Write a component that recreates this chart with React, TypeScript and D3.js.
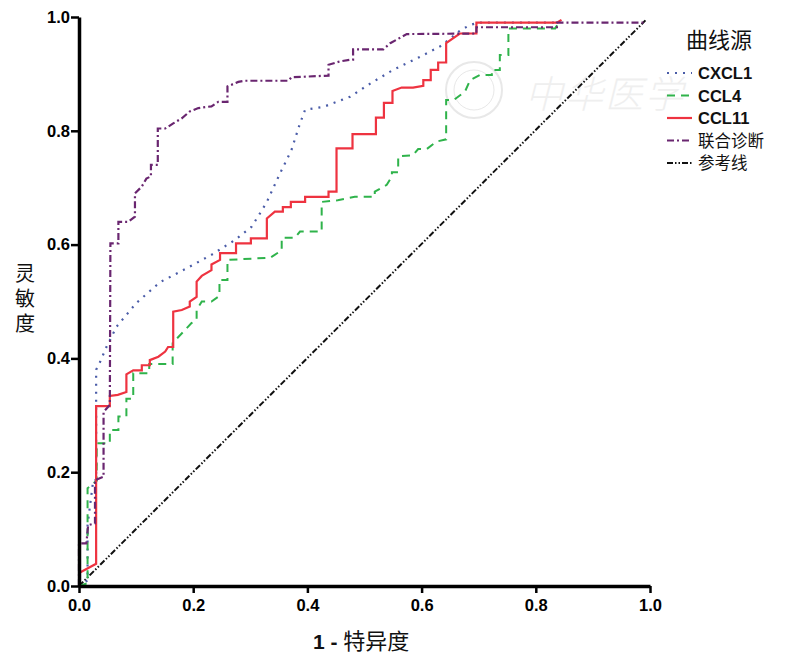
import React, { useRef, useEffect } from "react";
import * as d3 from "d3";

type Pt = [number, number];

// ROC points: [1 - specificity, sensitivity]
const cxcl1: Pt[] = [
  [0, 0], [0.015, 0.01], [0.015, 0.107], [0.025, 0.186], [0.03, 0.186], [0.03, 0.38],
  [0.037, 0.394], [0.048, 0.42], [0.066, 0.456], [0.1, 0.497], [0.142, 0.534],
  [0.186, 0.557], [0.232, 0.582], [0.273, 0.608], [0.302, 0.631], [0.317, 0.655],
  [0.329, 0.675], [0.352, 0.725], [0.372, 0.766], [0.387, 0.813], [0.396, 0.837],
  [0.428, 0.842], [0.475, 0.86], [0.51, 0.883], [0.55, 0.907], [0.597, 0.93],
  [0.632, 0.948], [0.65, 0.962], [0.667, 0.976], [0.685, 0.986], [0.7, 0.99], [0.84, 0.99],
];

const ccl4: Pt[] = [
  [0, 0], [0.015, 0.005], [0.015, 0.172], [0.031, 0.185], [0.031, 0.251], [0.054, 0.251],
  [0.054, 0.274], [0.069, 0.274], [0.069, 0.298], [0.083, 0.298], [0.083, 0.329],
  [0.095, 0.329], [0.095, 0.374], [0.123, 0.374], [0.123, 0.39], [0.164, 0.39],
  [0.164, 0.427], [0.197, 0.462], [0.206, 0.468], [0.206, 0.485], [0.215, 0.5],
  [0.232, 0.5], [0.246, 0.51], [0.246, 0.538], [0.26, 0.538], [0.26, 0.573],
  [0.335, 0.577], [0.355, 0.59], [0.355, 0.612], [0.378, 0.612], [0.387, 0.623],
  [0.425, 0.623], [0.425, 0.675], [0.453, 0.678], [0.483, 0.684], [0.518, 0.684],
  [0.518, 0.693], [0.539, 0.705], [0.548, 0.72], [0.548, 0.727], [0.559, 0.727],
  [0.559, 0.755], [0.585, 0.757], [0.594, 0.768], [0.609, 0.768], [0.626, 0.781],
  [0.643, 0.785], [0.643, 0.854], [0.656, 0.854], [0.676, 0.869], [0.685, 0.889],
  [0.702, 0.898], [0.723, 0.898], [0.723, 0.907], [0.737, 0.907], [0.737, 0.933],
  [0.752, 0.933], [0.752, 0.98], [0.834, 0.98], [0.84, 0.99],
];

const ccl11: Pt[] = [
  [0, 0.023], [0.03, 0.039], [0.03, 0.316], [0.054, 0.316], [0.054, 0.334], [0.068, 0.336],
  [0.083, 0.341], [0.083, 0.372], [0.095, 0.379], [0.11, 0.379], [0.11, 0.388],
  [0.124, 0.388], [0.124, 0.397], [0.139, 0.403], [0.151, 0.412], [0.156, 0.42],
  [0.165, 0.42], [0.165, 0.482], [0.18, 0.485], [0.194, 0.491], [0.194, 0.5],
  [0.206, 0.508], [0.206, 0.535], [0.215, 0.545], [0.232, 0.555], [0.232, 0.565],
  [0.247, 0.573], [0.247, 0.585], [0.275, 0.585], [0.275, 0.602], [0.301, 0.602],
  [0.301, 0.611], [0.329, 0.611], [0.329, 0.646], [0.343, 0.658], [0.357, 0.658],
  [0.357, 0.666], [0.371, 0.666], [0.371, 0.675], [0.396, 0.675], [0.396, 0.684],
  [0.437, 0.684], [0.437, 0.693], [0.451, 0.693], [0.451, 0.769], [0.479, 0.769],
  [0.479, 0.794], [0.52, 0.794], [0.52, 0.823], [0.534, 0.823], [0.534, 0.849],
  [0.549, 0.849], [0.549, 0.87], [0.565, 0.876], [0.585, 0.876], [0.603, 0.879],
  [0.603, 0.889], [0.616, 0.889], [0.616, 0.907], [0.629, 0.907], [0.629, 0.92],
  [0.643, 0.92], [0.643, 0.954], [0.667, 0.971], [0.696, 0.971], [0.696, 0.99],
  [0.837, 0.99], [0.845, 0.995],
];

const combined: Pt[] = [
  [0, 0], [0, 0.075], [0.013, 0.075], [0.016, 0.107], [0.028, 0.11], [0.028, 0.186],
  [0.043, 0.192], [0.043, 0.306], [0.054, 0.318], [0.055, 0.602], [0.069, 0.602],
  [0.069, 0.64], [0.086, 0.64], [0.098, 0.649], [0.098, 0.69], [0.11, 0.702],
  [0.118, 0.716], [0.126, 0.72], [0.126, 0.74], [0.138, 0.74], [0.138, 0.804],
  [0.151, 0.804], [0.165, 0.813], [0.18, 0.822], [0.194, 0.834], [0.209, 0.84],
  [0.232, 0.843], [0.244, 0.851], [0.26, 0.851], [0.26, 0.878], [0.279, 0.886],
  [0.291, 0.888], [0.367, 0.888], [0.372, 0.894], [0.437, 0.897], [0.437, 0.916],
  [0.457, 0.922], [0.475, 0.925], [0.48, 0.925], [0.48, 0.943], [0.533, 0.943],
  [0.545, 0.954], [0.556, 0.96], [0.574, 0.97], [0.696, 0.971], [0.696, 0.982],
  [0.837, 0.982], [0.837, 0.99], [0.992, 0.99],
];

const reference: Pt[] = [[0, 0], [0.992, 0.994]];

const tickValues = [0, 0.2, 0.4, 0.6, 0.8, 1.0];
const legendTitle = "曲线源";
const seriesNames = ["CXCL1", "CCL4", "CCL11", "联合诊断", "参考线"];
const yTitle = "灵敏度";

const styles = [
  { color: "#4a5ca8", dash: "2,6", width: 2.2 },
  { color: "#2fb34b", dash: "8,6", width: 2 },
  { color: "#ee3340", dash: "", width: 2.2 },
  { color: "#6a2670", dash: "7,3,2,3", width: 2.2 },
  { color: "#111", dash: "6,2,1.5,2,1.5,2", width: 2 },
];

const W = 786;
const H = 662;

const App: React.FC = () => {
  const ref = useRef<SVGSVGElement | null>(null);

  useEffect(() => {
    const svg = d3.select(ref.current).attr("width", W).attr("height", H);
    svg.selectAll("*").remove();

    const x = d3.scaleLinear().domain([0, 1]).range([79, 650]);
    const y = d3.scaleLinear().domain([0, 1]).range([586, 17]);

    // faint watermark
    const wm = svg.append("g").attr("fill", "none").attr("stroke", "#e8e8e8");
    wm.append("circle").attr("cx", 474).attr("cy", 90).attr("r", 28).attr("stroke-width", 2);
    wm.append("circle").attr("cx", 474).attr("cy", 90).attr("r", 20).attr("stroke-width", 1);
    svg
      .append("text")
      .attr("x", 525)
      .attr("y", 108)
      .attr("font-family", "Noto Sans CJK SC")
      .attr("font-size", 38)
      .attr("font-weight", 300)
      .attr("font-style", "italic")
      .attr("fill", "#efefef")
      .attr("letter-spacing", 2)
      .text("中华医学");

    const line = d3
      .line<Pt>()
      .x((d) => x(d[0]))
      .y((d) => y(d[1]));

    const all = [cxcl1, ccl4, ccl11, combined, reference];
    const order = [4, 0, 1, 2, 3];
    order.forEach((i) => {
      svg
        .append("path")
        .datum(all[i])
        .attr("fill", "none")
        .attr("stroke", styles[i].color)
        .attr("stroke-width", styles[i].width)
        .attr("stroke-dasharray", styles[i].dash || null)
        .attr("d", line);
    });

    const fmt = d3.format(".1f");

    const xAxis = svg
      .append("g")
      .attr("transform", "translate(0,586)")
      .call(d3.axisBottom(x).tickValues(tickValues).tickFormat((d) => fmt(d as number)).tickSize(7).tickSizeOuter(0));
    const yAxis = svg
      .append("g")
      .attr("transform", "translate(79,0)")
      .call(d3.axisLeft(y).tickValues(tickValues).tickFormat((d) => fmt(d as number)).tickSize(8).tickSizeOuter(0));

    [xAxis, yAxis].forEach((g) => {
      g.select(".domain").attr("stroke", "#000").attr("stroke-width", 3.5);
      g.selectAll(".tick line").attr("stroke", "#000").attr("stroke-width", 2.5);
      g.selectAll(".tick text")
        .attr("fill", "#000")
        .attr("font-family", "Liberation Sans, Arial, sans-serif")
        .attr("font-weight", "bold")
        .attr("font-size", 16.5);
    });
    xAxis.selectAll(".tick text").attr("dy", "1.05em").attr("y", 8);
    yAxis.selectAll(".tick text").attr("x", -9);

    // axis titles: y title stacked vertically
    svg
      .append("text")
      .attr("x", 25)
      .attr("y", 263)
      .attr("font-family", "Noto Sans CJK SC")
      .attr("font-size", 20)
      .attr("fill", "#111")
      .attr("letter-spacing", 5)
      .style("writing-mode", "vertical-rl")
      .style("text-orientation", "upright")
      .text(yTitle);

    const xLabel = svg
      .append("text")
      .attr("x", 313)
      .attr("y", 649)
      .attr("fill", "#111")
      .attr("font-size", 22);
    xLabel
      .append("tspan")
      .attr("font-family", "Liberation Sans, Arial, sans-serif")
      .attr("font-weight", "bold")
      .attr("font-size", 21)
      .text("1 - ");
    xLabel.append("tspan").attr("font-family", "Noto Sans CJK SC").text("特异度");

    // legend
    svg
      .append("text")
      .attr("x", 686)
      .attr("y", 48)
      .attr("font-family", "Noto Sans CJK SC")
      .attr("font-size", 22)
      .attr("fill", "#111")
      .text(legendTitle);

    seriesNames.forEach((name, i) => {
      const cy = 73 + i * 22.5;
      svg
        .append("line")
        .attr("x1", 667)
        .attr("x2", 692)
        .attr("y1", cy)
        .attr("y2", cy)
        .attr("stroke", styles[i].color)
        .attr("stroke-width", styles[i].width)
        .attr("stroke-dasharray", styles[i].dash || null);
      const isLatin = /^[A-Z0-9]+$/.test(name);
      svg
        .append("text")
        .attr("x", 698)
        .attr("y", cy + 6)
        .attr("fill", "#111")
        .attr("font-family", isLatin ? "Liberation Sans, Arial, sans-serif" : "Noto Sans CJK SC")
        .attr("font-weight", isLatin ? "bold" : "normal")
        .attr("font-size", 16.5)
        .text(name);
    });
  }, []);

  return (
    <svg
      ref={ref}
      style={{ position: "absolute", left: 0, top: 0, background: "#fff" }}
    ></svg>
  );
};

export default App;
